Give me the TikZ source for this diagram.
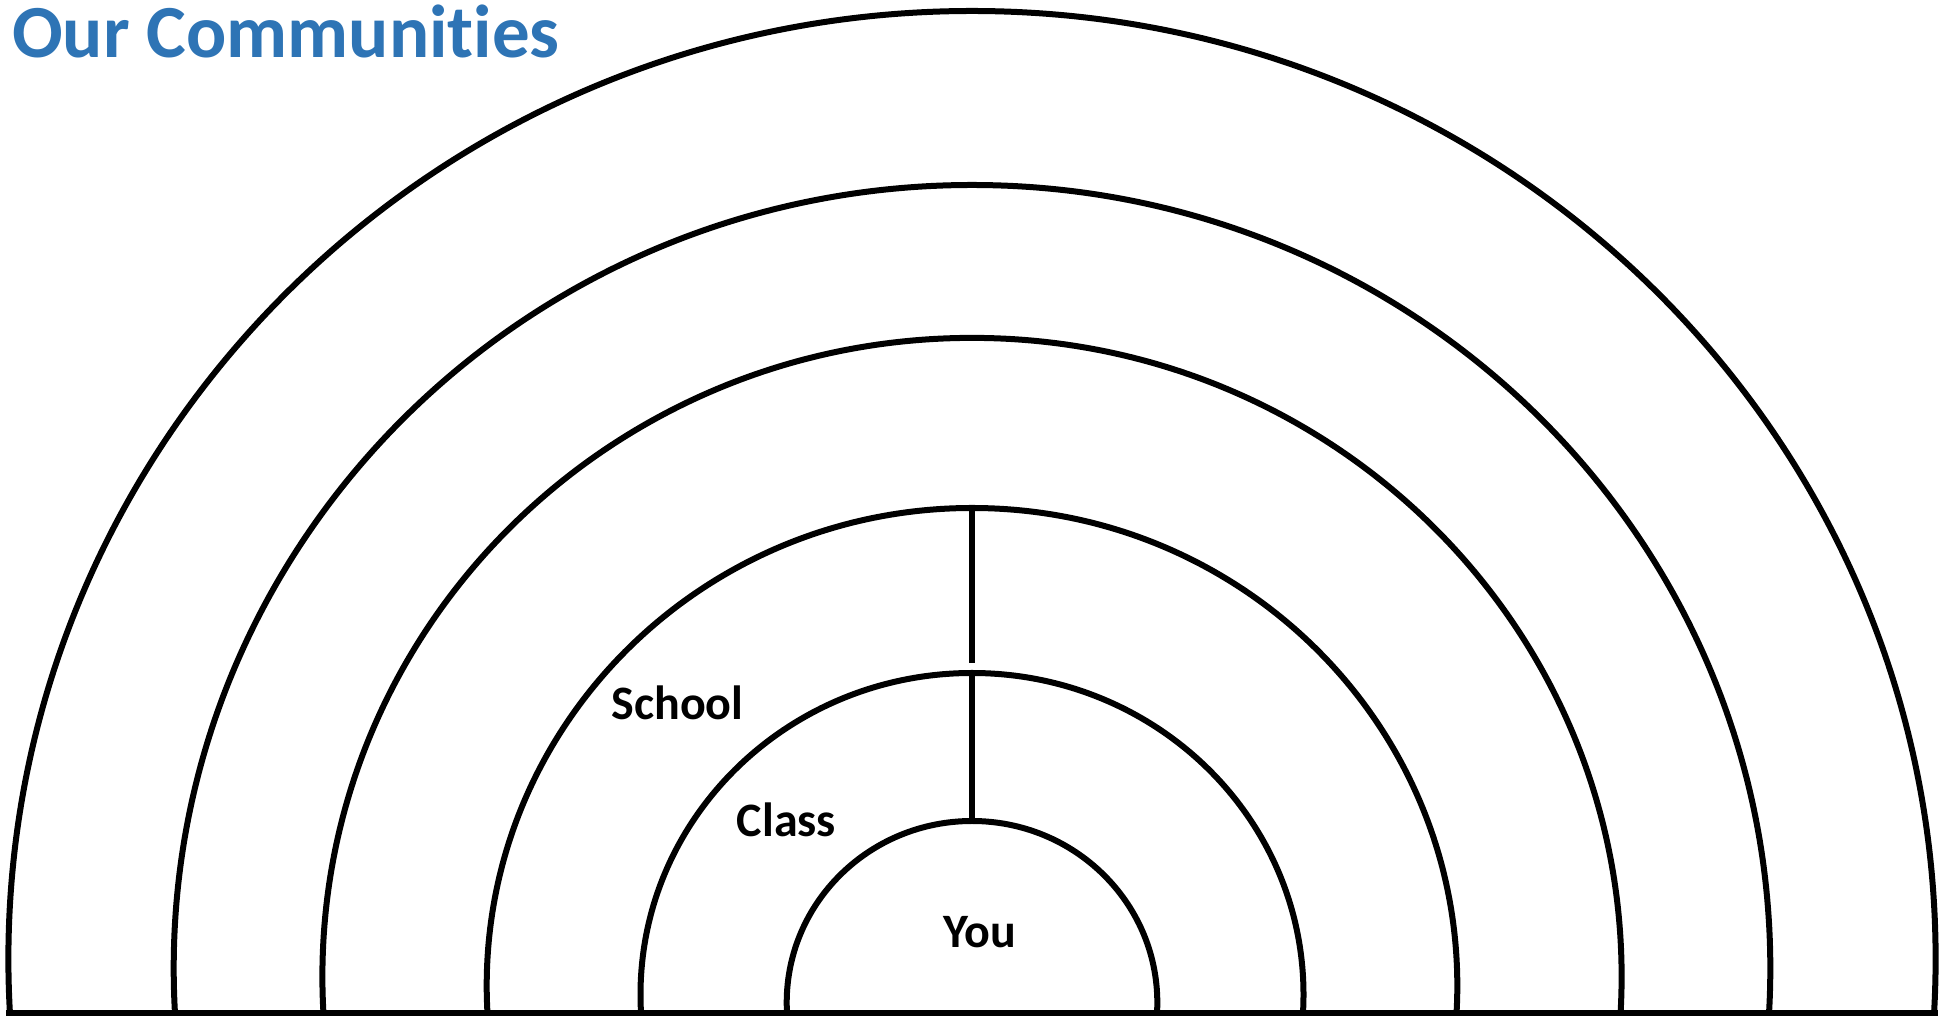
\documentclass[tikz,border=0pt]{standalone}
\usepackage{fontspec}
\setmainfont{Carlito}[Ligatures={NoCommon}]
\definecolor{titleblue}{HTML}{2E74B5}
\begin{document}
\begin{tikzpicture}[x=1pt,y=1pt,
  ring/.style={line width=6pt, draw=black},
  rule/.style={line width=6.5pt, draw=black},
  lbl/.style={font=\fontsize{48}{58}\selectfont\bfseries, inner sep=0pt, anchor=base},
  ttl/.style={font=\fontsize{75}{90}\selectfont\bfseries, text=titleblue, inner sep=0pt, anchor=base west}]
\useasboundingbox (0,0) rectangle (1950,1016);
\begin{scope}
  \clip (0,3) rectangle (1950,1016);
  \foreach \a/\b/\d in {963.6/947.9/54.1, 798.3/783.3/44.7, 649.6/638.6/36.5, 485.3/477.7/27.3, 331.5/321.6/18.4, 185.3/181.6/10.4}
    \draw[ring] (972,3+\d) ellipse [x radius=\a, y radius=\b];
\end{scope}
% base line
\coordinate (bl) at (6,3);
\coordinate (br) at (1938,3);
\draw[rule] (bl) -- (br);
% spokes
\coordinate (t4) at (972,508);
\coordinate (s4) at (972,353);
\coordinate (t5) at (972,343);
\coordinate (t6) at (972,195);
\draw[rule] (t4) -- (s4);
\draw[rule] (t5) -- (t6);
% labels
\node[ttl] (title) at (12,958) {Our Communities};
\node[lbl] (school) at (677.5,296) {School};
\node[lbl] (class) at (786.5,179) {Class};
\node[lbl] (you) at (979.5,68) {You};
\end{tikzpicture}
\end{document}
